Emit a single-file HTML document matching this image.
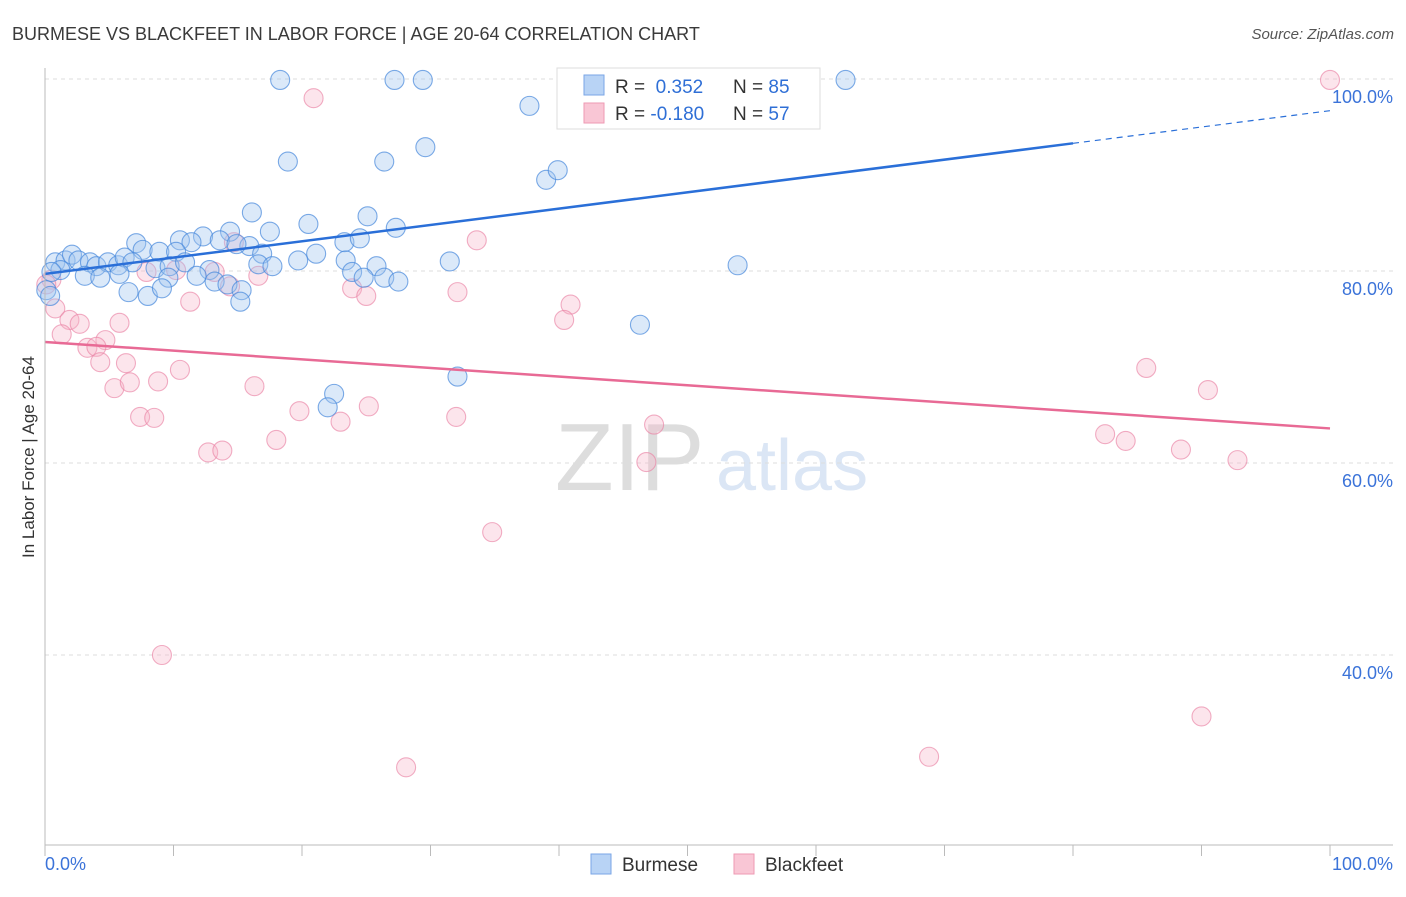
<!DOCTYPE html>
<html><head><meta charset="utf-8"><style>
body{margin:0;background:#fff;font-family:"Liberation Sans",sans-serif}
svg text{font-family:"Liberation Sans",sans-serif}
</style></head><body>
<svg id="c" width="1406" height="892">
<text x="12" y="40" font-size="18" fill="#3a3a3a">BURMESE VS BLACKFEET IN LABOR FORCE | AGE 20-64 CORRELATION CHART</text>
<text x="1394" y="39" font-size="15" fill="#555" font-style="italic" text-anchor="end">Source: ZipAtlas.com</text>
<text x="34" y="457" font-size="17" fill="#333" transform="rotate(-90 34 457)" text-anchor="middle">In Labor Force | Age 20-64</text>
<g><text x="555" y="490" font-size="96" fill="#ddd" font-family="Liberation Serif,serif">ZIP</text><text x="716" y="490" font-size="72" fill="#dbe6f5">atlas</text></g>
<g id="grid"></g><g id="pts"></g><g id="lines"></g>
<line x1="45" y1="68" x2="45" y2="845" stroke="#bbb"/>
<line x1="45" y1="845" x2="1393" y2="845" stroke="#bbb"/>
<text x="45" y="870" font-size="18" fill="#3b73d9">0.0%</text>
<text x="1393" y="870" font-size="18" fill="#3b73d9" text-anchor="end">100.0%</text>
<g>
<rect x="557" y="68" width="263" height="61" fill="#fff" stroke="#ddd"/>
<rect x="584" y="75" width="20" height="20" fill="#b8d3f5" stroke="#7aa6e6"/>
<rect x="584" y="103" width="20" height="20" fill="#f9c6d5" stroke="#ee9ab3"/>
<text x="615" y="93" font-size="19" fill="#333">R = <tspan fill="#2f6fd6">&#160;0.352</tspan></text>
<text x="733" y="93" font-size="19" fill="#333">N = <tspan fill="#2f6fd6">85</tspan></text>
<text x="615" y="120" font-size="19" fill="#333">R = <tspan fill="#2f6fd6">-0.180</tspan></text>
<text x="733" y="120" font-size="19" fill="#333">N = <tspan fill="#2f6fd6">57</tspan></text>
</g>
<g>
<rect x="591" y="854" width="20" height="20" fill="#b8d3f5" stroke="#7aa6e6"/>
<text x="622" y="871" font-size="19" fill="#333">Burmese</text>
<rect x="734" y="854" width="20" height="20" fill="#f9c6d5" stroke="#ee9ab3"/>
<text x="765" y="871" font-size="19" fill="#333">Blackfeet</text>
</g>
</svg>
<script>
const yTicks=[100,80,60,40];
const xTicks=[0,10,20,30,40,50,60,70,80,90,100];
const blueX=[18.3,27.2,29.4,62.3,37.7,18.9,26.4,29.6,39.0,39.9,16.1,20.5,25.1,27.3,17.5,14.4,12.3,10.5,11.4,13.6,21.1,23.3,24.5,7.1,7.6,8.9,10.2,15.9,16.9,19.7,23.4,25.8,31.5,53.9,0.8,1.6,2.1,2.6,3.5,4.0,4.9,5.7,6.2,6.8,8.6,9.7,10.9,12.8,16.6,17.7,23.9,26.4,27.5,24.8,1.2,0.5,3.1,4.3,5.8,9.6,11.8,13.2,14.2,6.5,8.0,9.1,15.3,15.2,46.3,32.1,22.5,22.0,0.1,0.4,14.9];
const blueY=[99.9,99.9,99.9,99.9,97.2,91.4,91.4,92.9,89.5,90.5,86.1,84.9,85.7,84.5,84.1,84.1,83.6,83.2,83.0,83.2,81.8,83.0,83.4,82.9,82.2,82.0,82.0,82.6,81.8,81.1,81.1,80.5,81.0,80.6,80.9,81.1,81.7,81.1,80.9,80.5,80.9,80.6,81.4,80.9,80.3,80.5,80.9,80.1,80.7,80.5,79.9,79.3,78.9,79.3,80.1,79.9,79.5,79.3,79.7,79.3,79.5,78.9,78.6,77.8,77.4,78.2,78.0,76.8,74.4,69.0,67.2,65.8,78.0,77.4,82.8];
const pinkX=[100,20.9,33.6,14.7,10.2,7.9,13.2,16.6,14.4,0.5,0.1,23.9,25.0,32.1,40.9,40.4,0.8,1.9,2.7,1.3,5.8,4.7,3.3,4.0,4.3,6.3,10.5,5.4,6.6,8.8,11.3,16.3,7.4,8.5,19.8,23.0,25.2,32.0,47.4,46.8,12.7,13.8,18.0,85.7,90.5,82.5,84.1,88.4,92.8,34.8,9.1,28.1,68.8,90.0,49.9];
const pinkY=[99.9,98.0,83.2,83.0,80.1,79.9,79.9,79.5,78.4,79.1,78.6,78.2,77.4,77.8,76.5,74.9,76.1,74.9,74.5,73.4,74.6,72.8,72.0,72.1,70.5,70.4,69.7,67.8,68.4,68.5,76.8,68.0,64.8,64.7,65.4,64.3,65.9,64.8,64.0,60.1,61.1,61.3,62.4,69.9,67.6,63.0,62.3,61.4,60.3,52.8,40.0,28.3,29.4,33.6,99.9];
const blueTrend=[79.7,96.7];
const pinkTrend=[72.6,63.6];
const blueSolidEnd=80;
const sx=v=>45+v*12.85, sy=v=>79+(100-v)*9.6;
const NS='http://www.w3.org/2000/svg';
function mk(t,a,p){const e=document.createElementNS(NS,t);for(const k in a)e.setAttribute(k,a[k]);p.appendChild(e);return e;}
const grid=document.getElementById('grid');
yTicks.forEach(v=>{
const l=mk('line',{x1:45,x2:1393,y1:sy(v),y2:sy(v),stroke:'#ddd','stroke-dasharray':'4,4'},grid);


const t=mk('text',{x:1393,y:sy(v)+24,'font-size':18,fill:'#3b73d9','text-anchor':'end'},grid);
t.textContent=v.toFixed(1)+'%';


});
xTicks.forEach(v=>{
const l=mk('line',{x1:sx(v),x2:sx(v),y1:845,y2:856,stroke:'#bbb'},grid);


});
const pts=document.getElementById('pts');
pinkX.forEach((x,i)=>{
const c=mk('circle',{cx:sx(x),cy:sy(pinkY[i]),r:9.5,fill:'rgba(246,180,200,0.35)',stroke:'rgba(234,130,165,0.65)','stroke-width':1.1},pts);


});
blueX.forEach((x,i)=>{
const c=mk('circle',{cx:sx(x),cy:sy(blueY[i]),r:9.5,fill:'rgba(160,196,240,0.38)',stroke:'rgba(70,135,220,0.7)','stroke-width':1.1},pts);


});
const lines=document.getElementById('lines');
const bAt=x=>blueTrend[0]+(blueTrend[1]-blueTrend[0])*x/100;
let l1=mk('line',{x1:sx(0),y1:sy(bAt(0)),x2:sx(blueSolidEnd),y2:sy(bAt(blueSolidEnd)),stroke:'#2a6fd8','stroke-width':2.5},lines);


let l2=mk('line',{x1:sx(blueSolidEnd),y1:sy(bAt(blueSolidEnd)),x2:sx(100),y2:sy(bAt(100)),stroke:'#2a6fd8','stroke-width':1.2,'stroke-dasharray':'6,5'},lines);


let l3=mk('line',{x1:sx(0),y1:sy(pinkTrend[0]),x2:sx(100),y2:sy(pinkTrend[1]),stroke:'#e86a95','stroke-width':2.5},lines);


</script>
</body></html>
